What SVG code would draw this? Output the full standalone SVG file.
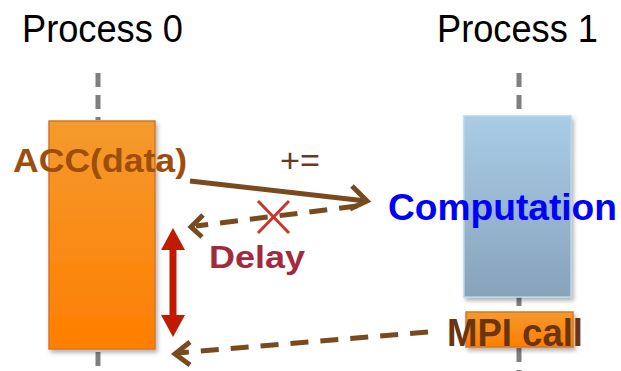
<svg xmlns="http://www.w3.org/2000/svg" width="621" height="371" viewBox="0 0 621 371">
<defs>
<linearGradient id="gOrange" x1="0" y1="0" x2="0" y2="1">
<stop offset="0" stop-color="#F39A2E"/>
<stop offset="1" stop-color="#FF7E00"/>
</linearGradient>
<linearGradient id="gBlue" x1="0" y1="0" x2="0" y2="1">
<stop offset="0" stop-color="#A9CCE7"/>
<stop offset="1" stop-color="#88A3BA"/>
</linearGradient>
<filter id="sh" x="-10%" y="-10%" width="130%" height="130%">
<feDropShadow dx="2" dy="3" stdDeviation="2" flood-color="#000" flood-opacity="0.3"/>
</filter>
</defs>
<style>
.life{stroke:#7F7F7F;stroke-width:5;stroke-dasharray:14 8;fill:none}
.title{font-family:"Liberation Sans",Arial,sans-serif;font-size:38px;fill:#000}
.lbl{font-family:"Liberation Sans",Arial,sans-serif;font-weight:bold}
.conn{stroke:#7A4A1F;stroke-width:5;fill:none;stroke-linecap:butt}
.dash{stroke-dasharray:18 12}
</style>
<rect width="621" height="371" fill="#fff"/>
<g id="process0">
<text class="title" x="22" y="42" textLength="161" lengthAdjust="spacingAndGlyphs">Process 0</text>
<line class="life" x1="98" y1="73" x2="98" y2="120"/>
<line class="life" x1="98" y1="352" x2="98" y2="371" stroke-dasharray="8 6 14 8"/>
<rect x="49" y="121" width="106" height="228" fill="url(#gOrange)" stroke="#D8762A" stroke-width="1.5" filter="url(#sh)"/>
<text class="lbl" x="13" y="172" font-size="34" fill="#9E4E0A" textLength="174" lengthAdjust="spacingAndGlyphs">ACC(data)</text>
</g>
<g id="process1">
<text class="title" x="437" y="42" textLength="161" lengthAdjust="spacingAndGlyphs">Process 1</text>
<line class="life" x1="519" y1="73" x2="519" y2="116"/>
<line class="life" x1="519" y1="297" x2="519" y2="306" stroke-dasharray="10 30"/>
<line class="life" x1="519" y1="348" x2="519" y2="371" stroke-dasharray="7 5 14 8"/>
<rect x="464" y="116" width="107" height="181" fill="url(#gBlue)" stroke="#B9D3E8" stroke-width="1.5" filter="url(#sh)"/>
<text class="lbl" x="388" y="220" font-size="37" fill="#0000FF" textLength="229" lengthAdjust="spacingAndGlyphs">Computation</text>
<rect x="466" y="312" width="107" height="35" fill="url(#gOrange)" stroke="#D8762A" stroke-width="1.5" filter="url(#sh)"/>
<text class="lbl" x="447" y="346" font-size="39" fill="#6B3512" textLength="136" lengthAdjust="spacingAndGlyphs">MPI call</text>
</g>
<g id="connectors">
<line class="conn" x1="190" y1="181" x2="366" y2="201"/>
<polyline class="conn" points="352,186 367,201 350,209" stroke-linejoin="miter"/>
<text x="280" y="172" font-family="Liberation Sans,Arial,sans-serif" font-size="34" fill="#6B3A1E" textLength="40" lengthAdjust="spacingAndGlyphs">+=</text>
<line class="conn dash" x1="357" y1="206" x2="196" y2="226"/>
<polyline class="conn" points="203,215 191,227 202,237"/>
<line class="conn dash" x1="428" y1="332" x2="178" y2="353"/>
<polyline class="conn" points="190,342 175,354 190,365"/>
<g id="delay">
<line x1="173" y1="248" x2="173" y2="317" stroke="#C01A00" stroke-width="7"/>
<polygon points="173,228 185,250 161,250" fill="#C01A00"/>
<polygon points="173,337 185,315 161,315" fill="#C01A00"/>
<text class="lbl" x="209" y="268" font-size="32" fill="#A32A3E" textLength="96" lengthAdjust="spacingAndGlyphs">Delay</text>
</g>
<g id="cross" stroke="#C8352A" stroke-width="3">
<line x1="258" y1="201" x2="289" y2="233"/>
<line x1="289" y1="201" x2="258" y2="233"/>
</g>
</g>
</svg>
